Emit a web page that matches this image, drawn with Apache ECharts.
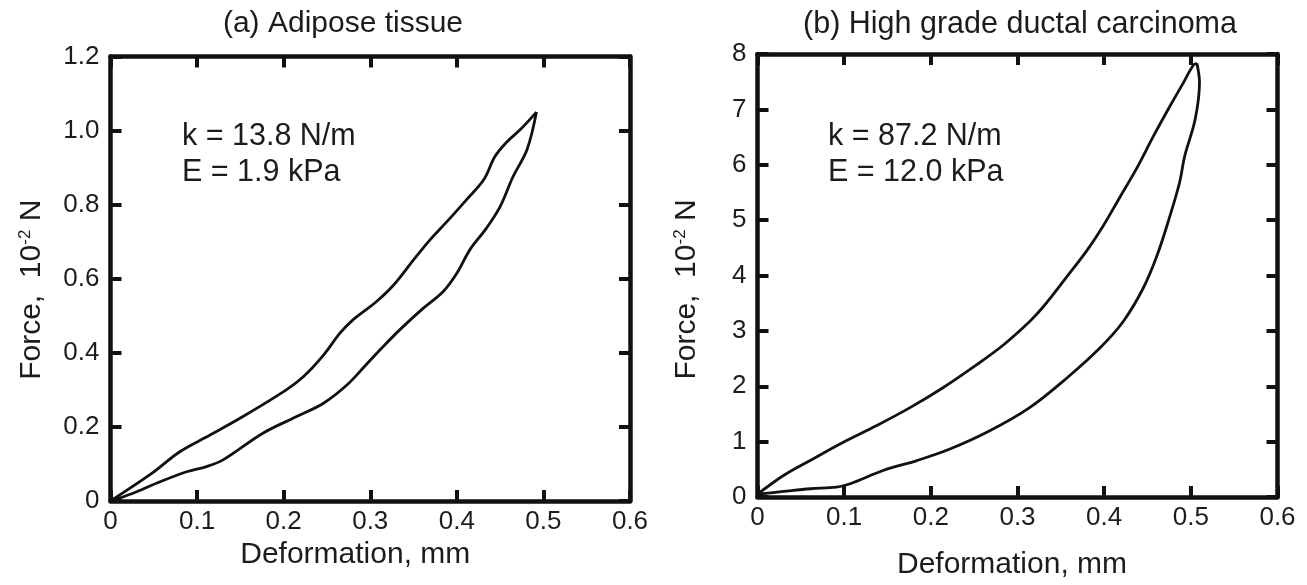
<!DOCTYPE html>
<html>
<head>
<meta charset="utf-8">
<script src="https://cdn.jsdelivr.net/npm/echarts@6/dist/echarts.min.js"></script>
<style>
html,body{margin:0;padding:0;background:#fff;}
#chart{width:1307px;height:585px;}
</style>
</head>
<body>
<div id="chart"></div>
<script>
// ---- data ----
const xTicks = [0, 0.1, 0.2, 0.3, 0.4, 0.5, 0.6];
const yTicksA = [0, 0.2, 0.4, 0.6, 0.8, 1.0, 1.2];
const yTicksB = [0, 1, 2, 3, 4, 5, 6, 7, 8];

const titleA = '(a) Adipose tissue';
const titleB = '(b) High grade ductal carcinoma';
const noteA = ['k = 13.8 N/m', 'E = 1.9 kPa'];
const noteB = ['k = 87.2 N/m', 'E = 12.0 kPa'];

// (a) adipose tissue: loading branch (upper) and unloading branch (lower)
const adiposeLoading = [
  [0, 0], [0.048, 0.075], [0.080, 0.133], [0.115, 0.178], [0.153, 0.228],
  [0.203, 0.300], [0.223, 0.336], [0.246, 0.394], [0.265, 0.453], [0.280, 0.489],
  [0.307, 0.538], [0.327, 0.583], [0.350, 0.651], [0.369, 0.705], [0.392, 0.763],
  [0.411, 0.813], [0.431, 0.867], [0.444, 0.930], [0.458, 0.970], [0.473, 1.002],
  [0.492, 1.050]
];
const adiposeUnloading = [
  [0.492, 1.050], [0.481, 0.948], [0.465, 0.876], [0.450, 0.795], [0.434, 0.736],
  [0.415, 0.678], [0.400, 0.615], [0.384, 0.565], [0.361, 0.520], [0.334, 0.462],
  [0.315, 0.417], [0.296, 0.370], [0.273, 0.313], [0.246, 0.264], [0.215, 0.228],
  [0.176, 0.183], [0.130, 0.111], [0.111, 0.093], [0.088, 0.079], [0.053, 0.048],
  [0.026, 0.021], [0, 0]
];

// (b) high grade ductal carcinoma
const carcinomaLoading = [
  [0, 0.05], [0.030, 0.389], [0.064, 0.687], [0.099, 0.987], [0.137, 1.286],
  [0.176, 1.614], [0.214, 1.973], [0.253, 2.390], [0.284, 2.750], [0.314, 3.170],
  [0.330, 3.440], [0.357, 3.980], [0.380, 4.450], [0.399, 4.900], [0.418, 5.410],
  [0.437, 5.920], [0.457, 6.520], [0.476, 7.060], [0.491, 7.470], [0.503, 7.800],
  [0.507, 7.830]
];
const carcinomaUnloading = [
  [0.507, 7.830], [0.510, 7.490], [0.505, 6.820], [0.493, 6.160], [0.487, 5.680],
  [0.476, 5.080], [0.461, 4.360], [0.445, 3.770], [0.422, 3.170], [0.395, 2.690],
  [0.357, 2.150], [0.314, 1.614], [0.268, 1.196], [0.222, 0.866], [0.184, 0.658],
  [0.145, 0.479], [0.107, 0.239], [0.091, 0.179], [0.061, 0.149], [0.030, 0.100],
  [0, 0.05]
];

// ---- chart ----
const FONT = "'Liberation Sans', Arial, sans-serif";
const INK = '#111';
const TXT = '#1c1c1c';

function fmtX(v) { return v === 0 ? '0' : v.toFixed(1); }
function fmtYA(v) { return v === 0 ? '0' : v.toFixed(1); }
function fmtYB(v) { return String(Math.round(v)); }

function xAxisFor(gridIndex, ticks, position, showLabel, namePad, nameGap) {
  const ax = {
    type: 'value', gridIndex, position,
    min: ticks[0], max: ticks[ticks.length - 1], interval: ticks[1] - ticks[0],
    axisLine: { show: true, onZero: false, lineStyle: { color: INK, width: 4.5 } },
    axisTick: { show: true, inside: true, length: 11, lineStyle: { color: INK, width: 4 } },
    axisLabel: { show: showLabel, formatter: fmtX, fontFamily: FONT, fontSize: 26, color: TXT, margin: 8 },
    splitLine: { show: false }
  };
  if (showLabel) {
    ax.name = 'Deformation, mm';
    ax.nameLocation = 'middle';
    ax.nameGap = nameGap;
    ax.nameTextStyle = { fontFamily: FONT, fontSize: 30, color: TXT, padding: [0, namePad, 0, 0] };
  }
  return ax;
}
function yAxisFor(gridIndex, ticks, position, showLabel, fmt, namePad, nameGap) {
  const ax = {
    type: 'value', gridIndex, position,
    min: ticks[0], max: ticks[ticks.length - 1], interval: ticks[1] - ticks[0],
    axisLine: { show: true, onZero: false, lineStyle: { color: INK, width: 4.5 } },
    axisTick: { show: true, inside: true, length: 11, lineStyle: { color: INK, width: 4 } },
    axisLabel: { show: showLabel, formatter: fmt, fontFamily: FONT, fontSize: 26, color: TXT, margin: 11 },
    splitLine: { show: false }
  };
  if (showLabel) {
    ax.name = '{a|Force,  10}{s|-2}{a| N}';
    ax.nameLocation = 'middle';
    ax.nameGap = nameGap;
    ax.nameTextStyle = {
      fontFamily: FONT, fontSize: 30, color: TXT, padding: [0, namePad, 0, 0],
      rich: {
        a: { fontFamily: FONT, fontSize: 30, color: TXT },
        s: { fontFamily: FONT, fontSize: 17, color: TXT, verticalAlign: 'bottom', padding: [0, 0, 13, 0] }
      }
    };
  }
  return ax;
}

function lineSeries(name, data, xi, yi) {
  return {
    name, type: 'line', data, xAxisIndex: xi, yAxisIndex: yi,
    smooth: 0.35, showSymbol: false, symbol: 'none', silent: true,
    lineStyle: { color: INK, width: 2.8 }, clip: true
  };
}

function txt(x, y, text, align, size) {
  return { type: 'text', x, y, silent: true,
    style: { text, font: size + 'px ' + FONT, fill: TXT, textAlign: align, textVerticalAlign: 'middle' } };
}

const chart = echarts.init(document.getElementById('chart'), null, { renderer: 'canvas' });
chart.setOption({
  backgroundColor: '#fff',
  animation: false,
  grid: [
    { left: 110.5, right: 677, top: 56.5, bottom: 84 },
    { left: 757.5, right: 29.5, top: 54, bottom: 85 }
  ],
  xAxis: [
    xAxisFor(0, xTicks, 'bottom', true, 30, 39),
    xAxisFor(0, xTicks, 'top', false),
    xAxisFor(1, xTicks, 'bottom', true, 11, 53),
    xAxisFor(1, xTicks, 'top', false)
  ],
  yAxis: [
    yAxisFor(0, yTicksA, 'left', true, fmtYA, 22, 64),
    yAxisFor(0, yTicksA, 'right', false, fmtYA),
    yAxisFor(1, yTicksB, 'left', true, fmtYB, 28, 56),
    yAxisFor(1, yTicksB, 'right', false, fmtYB)
  ],
  series: [
    lineSeries('Adipose loading', adiposeLoading, 0, 0),
    lineSeries('Adipose unloading', adiposeUnloading, 0, 0),
    lineSeries('Carcinoma loading', carcinomaLoading, 2, 2),
    lineSeries('Carcinoma unloading', carcinomaUnloading, 2, 2)
  ],
  graphic: [
    txt(343, 24, titleA, 'center', 30),
    txt(1020, 25, titleB, 'center', 30.5),
    txt(182, 137, noteA[0], 'left', 30.5),
    txt(182, 173, noteA[1], 'left', 30.5),
    txt(828, 137, noteB[0], 'left', 30.5),
    txt(828, 173, noteB[1], 'left', 30.5)
  ]
});
</script>
</body>
</html>
